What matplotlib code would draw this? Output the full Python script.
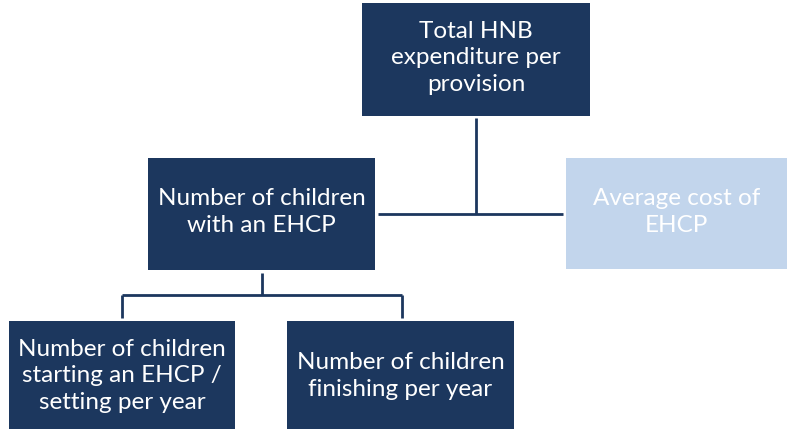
import matplotlib
matplotlib.use("Agg")
import matplotlib.pyplot as plt
from matplotlib.patches import Rectangle

# Node labels
labels = [
    "Total HNB\nexpenditure per\nprovision",
    "Number of children\nwith an EHCP",
    "Average cost of\nEHCP",
    "Number of children\nstarting an EHCP /\nsetting per year",
    "Number of children\nfinishing per year",
]
# layout (pixel boxes: x0, y0, x1, y1)
boxes = [
    (362, 3, 590, 116),
    (148, 158, 375, 270),
    (566, 158, 787, 269),
    (9, 321, 235, 440),
    (287, 321, 514, 440),
]
fills = ["#1c375e", "#1c375e", "#c2d5ec", "#1c375e", "#1c375e"]
text_y = [58, 212, 212, 376, 376]

NAVY = "#1c375e"

fig = plt.figure(figsize=(7.87, 4.29), dpi=100)
ax = fig.add_axes([0, 0, 1, 1])
ax.set_xlim(0, 787)
ax.set_ylim(429, 0)
ax.axis("off")

for (x0, y0, x1, y1), fc, lab, ty in zip(boxes, fills, labels, text_y):
    ax.add_patch(Rectangle((x0, y0), x1 - x0, y1 - y0, facecolor=fc, edgecolor="none"))
    ax.text((x0 + x1) / 2, ty, lab, ha="center", va="center", color="white",
            fontsize=17.5, family=["Lato", "DejaVu Sans"], linespacing=1.3)

lw = 2.0
# connectors
ax.plot([476, 476], [118, 214], color=NAVY, lw=lw, solid_capstyle="butt")
ax.plot([378, 563], [214, 214], color=NAVY, lw=lw, solid_capstyle="butt")
ax.plot([261.5, 261.5], [273, 295], color=NAVY, lw=lw, solid_capstyle="butt")
ax.plot([121.5, 401.5], [295, 295], color=NAVY, lw=lw, solid_capstyle="butt")
ax.plot([121.5, 121.5], [295, 318], color=NAVY, lw=lw, solid_capstyle="butt")
ax.plot([401.5, 401.5], [295, 318], color=NAVY, lw=lw, solid_capstyle="butt")

fig.savefig("out.png", dpi=100)
